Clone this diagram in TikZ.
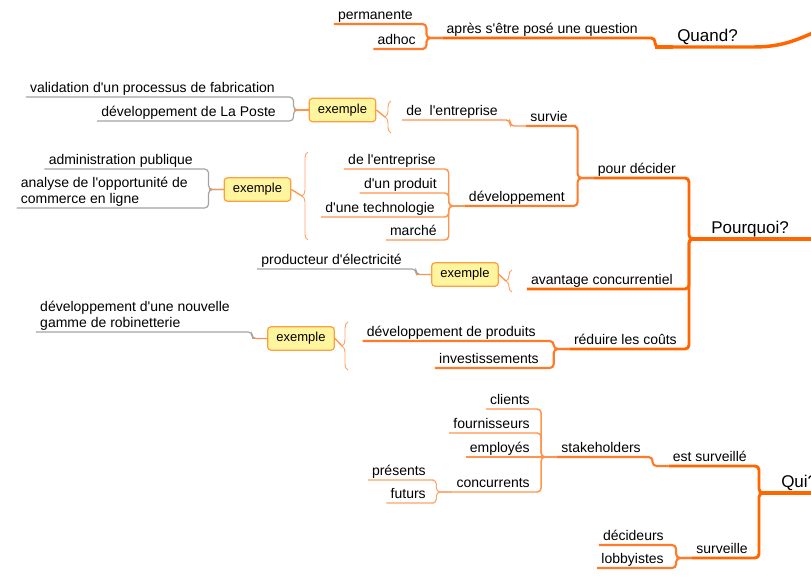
\documentclass[tikz,border=0pt]{standalone}
\usepackage{fontspec}
\setmainfont{Liberation Sans}[Ligatures=TeXOff]
\usetikzlibrary{decorations.pathreplacing}

\definecolor{mmOrange}{HTML}{FF6600}
\definecolor{mmOrangeC}{HTML}{FF7B29}
\definecolor{mmOrangeD}{HTML}{FF944D}
\definecolor{mmOrangeE}{HTML}{FFA366}
\definecolor{mmGray}{HTML}{A3A3A3}
\definecolor{mmFill}{HTML}{FFF59E}
\definecolor{mmBorder}{HTML}{FF9E3D}

\tikzset{
    topic/.style={inner xsep=3pt, inner ysep=1pt, text height=0.75em, text depth=0.22em, font=\fontsize{10.5}{12}\selectfont},
    topictwo/.style={inner xsep=3pt, inner ysep=1pt, align=left, font=\fontsize{10.5}{12}\selectfont},
    maintopic/.style={topic, inner ysep=1.7pt, font=\fontsize{12.75}{15}\selectfont},
    exbox/.style={draw=mmBorder, fill=mmFill, line width=0.9pt, rounded corners=2.5pt, minimum width=50pt, minimum height=17.5pt, inner sep=2pt, font=\fontsize{9.75}{11}\selectfont},
    lvlA/.style={draw=mmOrange, line width=2.6pt, rounded corners=3pt},
    lvlB/.style={draw=mmOrange, line width=2.2pt, rounded corners=3pt},
    lvlC/.style={draw=mmOrangeC, line width=1.6pt, rounded corners=3pt},
    lvlD/.style={draw=mmOrangeD, line width=1.1pt, rounded corners=3pt},
    lvlE/.style={draw=mmOrangeE, line width=0.8pt, rounded corners=3pt},
    exline/.style={draw=mmGray, line width=0.9pt, rounded corners=3pt},
    stub/.style={draw=mmOrangeD, line width=1pt},
    grp/.style={draw=mmOrangeE, line width=0.7pt, decorate, decoration={brace, amplitude=4.5pt}}
}

\begin{document}
\begin{tikzpicture}[x=0.75pt, y=-0.75pt]
    \useasboundingbox (0,0) rectangle (811,585);
    \clip (0,0) rectangle (811,585);

    % Quand?
    \node[maintopic, anchor=south west] (quand) at (673,47) {Quand?};
    \node[topic, anchor=south east] (apres) at (642,38) {après s'être posé une question};
    \node[topic, anchor=south east] (permanente) at (417,24) {permanente};
    \node[topic, anchor=south east] (adhoc) at (420,49) {adhoc};

    \draw[lvlA] (quand.south west) -- ++(-18,0);
    \draw[lvlA] (quand.south west) -- (750,47) .. controls (785,47) and (800,38) .. (820,30);
    \draw[lvlB] (quand.south west) -- ++(-18,0) |- (apres.south east) -- (apres.south west);
    \foreach \c in {permanente,adhoc}
        \draw[lvlC] (apres.south west) -- ++(-16,0) |- (\c.south east) -- (\c.south west);

    % Pourquoi?
    \node[maintopic, anchor=south west] (pourquoi) at (707,239) {Pourquoi?};
    \node[topic, anchor=south east] (decider) at (680,178) {pour décider};
    \node[topic, anchor=south east] (avantage) at (677,289) {avantage concurrentiel};
    \node[topic, anchor=south east] (reduire) at (681,349) {réduire les coûts};
    \node[topic, anchor=south east] (survie) at (572,126) {survie};
    \node[topic, anchor=south east] (developpement) at (569,206) {développement};
    \node[topic, anchor=south east] (survieEnt) at (502,120) {de\ \ l'entreprise};
    \node[topic, anchor=south east] (devEnt) at (440,169) {de l'entreprise};
    \node[topic, anchor=south east] (devProduit) at (441,193) {d'un produit};
    \node[topic, anchor=south east] (devTechno) at (439,217) {d'une technologie};
    \node[topic, anchor=south east] (devMarche) at (441,240) {marché};
    \node[topic, anchor=south east] (produits) at (540,341) {développement de produits};
    \node[topic, anchor=south east] (invest) at (543,368) {investissements};

    \draw[lvlA] (pourquoi.south west) -- ++(-18,0);
    \draw[lvlA] (pourquoi.south west) -- (815,239);
    \foreach \c in {decider,avantage,reduire}
        \draw[lvlB] (pourquoi.south west) -- ++(-18,0) |- (\c.south east) -- (\c.south west);
    \foreach \c in {survie,developpement}
        \draw[lvlC] (decider.south west) -- ++(-16,0) |- (\c.south east) -- (\c.south west);
    \draw[lvlD] (survie.south west) -- ++(-16,0) |- (survieEnt.south east) -- (survieEnt.south west);
    \foreach \c in {devEnt,devProduit,devTechno,devMarche}
        \draw[lvlD] (developpement.south west) -- ++(-16,0) |- (\c.south east) -- (\c.south west);
    \foreach \c in {produits,invest}
        \draw[lvlC] (reduire.south west) -- ++(-16,0) |- (\c.south east) -- (\c.south west);

    % Exemples
    \node[exbox] (exSurvie) at (342.5,110) {exemple};
    \node[exbox] (exDev) at (257.5,189.5) {exemple};
    \node[exbox] (exAvantage) at (465,274.5) {exemple};
    \node[exbox] (exReduire) at (301,338.5) {exemple};

    \foreach \n/\x/\top/\bot in {Survie/391/101/133,Dev/308/152/240,Avantage/512/270/292,Reduire/348/322/370} {
        \draw[grp] (\x,\bot) -- (\x,\top);
        \coordinate (tip\n) at (\x-6,{(\top+\bot)/2});
    }
    \foreach \n in {Survie,Dev,Avantage,Reduire}
        \draw[stub] (ex\n.east) -- (tip\n);

    \node[topic, anchor=south east] (validation) at (279,97) {validation d'un processus de fabrication};
    \node[topic, anchor=south east] (laposte) at (280,121) {développement de La Poste};
    \node[topic, anchor=south east] (administration) at (197,169) {administration publique};
    \node[topictwo, anchor=south east] (analyse) at (192,208) {analyse de l'opportunité de\\commerce en ligne};
    \node[topic, anchor=south east] (producteur) at (406,269) {producteur d'électricité};
    \node[topictwo, anchor=south east] (robinetterie) at (234,332) {développement d'une nouvelle\\gamme de robinetterie};

    \foreach \b/\c in {exSurvie/validation,exSurvie/laposte,exDev/administration,exDev/analyse,exAvantage/producteur,exReduire/robinetterie}
        \draw[exline] (\b.west) -- ++(-15,0) |- (\c.south east) -- (\c.south west);
    \foreach \b in {exSurvie,exDev,exAvantage,exReduire}
        \draw[stub] (\b.west) -- ++(-15,0);

    % Qui?
    \node[maintopic, anchor=south west] (qui) at (777,493) {Qui?};
    \node[topic, anchor=south east] (estSurveille) at (751,466) {est surveillé};
    \node[topic, anchor=south east] (surveille) at (752,558) {surveille};
    \node[topic, anchor=south east] (stakeholders) at (645,457) {stakeholders};
    \node[topic, anchor=south east] (clients) at (534,409) {clients};
    \node[topic, anchor=south east] (fournisseurs) at (534,433) {fournisseurs};
    \node[topic, anchor=south east] (employes) at (534,457) {employés};
    \node[topic, anchor=south east] (concurrents) at (534,492) {concurrents};
    \node[topic, anchor=south east] (presents) at (430,480) {présents};
    \node[topic, anchor=south east] (futurs) at (430,503) {futurs};
    \node[topic, anchor=south east] (decideurs) at (668,545) {décideurs};
    \node[topic, anchor=south east] (lobbyistes) at (668,568) {lobbyistes};

    \draw[lvlA] (qui.south west) -- ++(-18,0);
    \draw[lvlA] (qui.south west) -- (815,493);
    \foreach \c in {estSurveille,surveille}
        \draw[lvlB] (qui.south west) -- ++(-18,0) |- (\c.south east) -- (\c.south west);
    \draw[lvlC] (estSurveille.south west) -- ++(-16,0) |- (stakeholders.south east) -- (stakeholders.south west);
    \foreach \c in {clients,fournisseurs,concurrents}
        \draw[lvlD] (stakeholders.south west) -- ++(-16,0) |- (\c.south east) -- (\c.south west);
    \draw[lvlD] (stakeholders.south west) -- (employes.south west);
    \foreach \c in {presents,futurs}
        \draw[lvlE] (concurrents.south west) -- ++(-16,0) |- (\c.south east) -- (\c.south west);
    \foreach \c in {decideurs,lobbyistes}
        \draw[lvlC] (surveille.south west) -- ++(-16,0) |- (\c.south east) -- (\c.south west);
\end{tikzpicture}
\end{document}
